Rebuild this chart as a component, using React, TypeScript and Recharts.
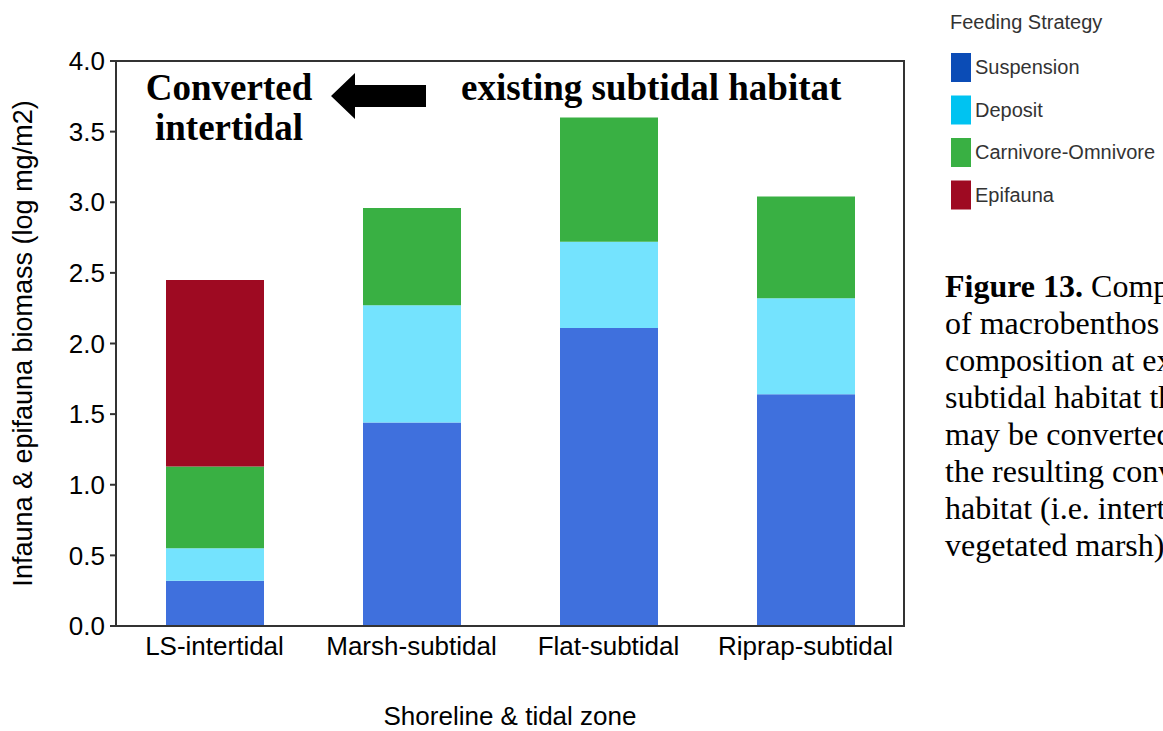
import { BarChart, Bar, XAxis, YAxis, ReferenceArea } from "recharts";

const categories = ["LS-intertidal", "Marsh-subtidal", "Flat-subtidal", "Riprap-subtidal"];
const suspension = [0.32, 1.44, 2.11, 1.64];
const deposit = [0.23, 0.83, 0.61, 0.68];
const carnivore = [0.58, 0.69, 0.88, 0.72];
const epifauna = [1.32, 0, 0, 0];
const yTicks = [0, 0.5, 1, 1.5, 2, 2.5, 3, 3.5, 4];

const series = [
  { key: "suspension", name: "Suspension", fill: "#3f70dd", swatch: "#0b4cb6" },
  { key: "deposit", name: "Deposit", fill: "#74e3fe", swatch: "#00c3f1" },
  { key: "carnivore", name: "Carnivore-Omnivore", fill: "#39b043", swatch: "#39b043" },
  { key: "epifauna", name: "Epifauna", fill: "#9e0a22", swatch: "#9e0a22" },
];

const captionLines = [
  "Composition",
  "of macrobenthos feeding",
  "composition at existing",
  "subtidal habitat that",
  "may be converted and",
  "the resulting converted",
  "habitat (i.e. intertidal",
  "vegetated marsh)",
];

const data = categories.map((name, i) => ({
  name,
  suspension: suspension[i],
  deposit: deposit[i],
  carnivore: carnivore[i],
  epifauna: epifauna[i],
}));

const sans = "'Liberation Sans', Arial, sans-serif";
const serif = "'Liberation Serif', 'Times New Roman', serif";
const axisColor = "#333";

function YTitle(props: any) {
  const vb = props.viewBox || {};
  const cx = 23;
  const cy = vb.y + vb.height / 2;
  return (
    <text
      x={cx}
      y={cy}
      transform={`rotate(-90, ${cx}, ${cy})`}
      textAnchor="middle"
      dominantBaseline="central"
      fontSize={27}
      fontFamily={sans}
      fill="#000"
    >
      Infauna &amp; epifauna biomass (log mg/m2)
    </text>
  );
}

function XTitle(props: any) {
  const vb = props.viewBox || {};
  return (
    <text
      x={vb.x + vb.width / 2}
      y={716}
      textAnchor="middle"
      dominantBaseline="central"
      fontSize={26}
      fontFamily={sans}
      fill="#000"
    >
      Shoreline &amp; tidal zone
    </text>
  );
}

export default function App() {
  return (
    <div style={{ position: "absolute", left: 0, top: 0, width: 1163, height: 731, background: "#fff" }}>
      <BarChart
        width={1163}
        height={731}
        data={data}
        margin={{ top: 61, right: 259, bottom: 0, left: 0 }}
        barSize={98}
      >
        <XAxis
          dataKey="name"
          height={105}
          tickLine={false}
          tickSize={6}
          tickMargin={5}
          stroke={axisColor}
          strokeWidth={2}
          tick={{ fontSize: 26, fontFamily: sans, fill: "#000" }}
          label={<XTitle />}
        />
        <YAxis
          width={116}
          domain={[0, 4]}
          ticks={yTicks}
          tickFormatter={(v: number) => v.toFixed(1)}
          tickSize={6}
          tickMargin={5}
          stroke={axisColor}
          strokeWidth={2}
          tick={{ fontSize: 26, fontFamily: sans, fill: "#000" }}
          label={<YTitle />}
        />
        <ReferenceArea y1={0} y2={4} fill="none" stroke={axisColor} strokeWidth={2} />
        {series.map((s) => (
          <Bar
            key={s.key}
            dataKey={s.key}
            name={s.name}
            stackId="a"
            fill={s.fill}
            isAnimationActive={false}
          />
        ))}
      </BarChart>
      <svg
        width={1163}
        height={731}
        style={{ position: "absolute", left: 0, top: 0, pointerEvents: "none" }}
      >
        <g fontFamily={serif} fontWeight="bold" fontSize={37} fill="#000">
          <text x={229} y={100} textAnchor="middle">Converted</text>
          <text x={229} y={140} textAnchor="middle">intertidal</text>
          <text x={461} y={100}>existing subtidal habitat</text>
        </g>
        <polygon
          points="331,96 355,73 355,85 426,85 426,107 355,107 355,119"
          fill="#000"
        />
        <g fontFamily={sans} fontSize={20} fill="#333">
          <text x={950} y={22} dominantBaseline="central">Feeding Strategy</text>
          {series.map((s, i) => (
            <g key={s.key}>
              <rect x={951} y={53 + i * 42.5} width={20} height={29} fill={s.swatch} />
              <text x={975} y={67 + i * 42.5} dominantBaseline="central">{s.name}</text>
            </g>
          ))}
        </g>
        <g fontFamily={serif} fontSize={32} fill="#000">
          {captionLines.map((line, i) => (
            <text key={i} x={945} y={297 + i * 37}>
              {i === 0 ? (
                <>
                  <tspan fontWeight="bold">Figure 13.</tspan> {line}
                </>
              ) : (
                line
              )}
            </text>
          ))}
        </g>
      </svg>
    </div>
  );
}
